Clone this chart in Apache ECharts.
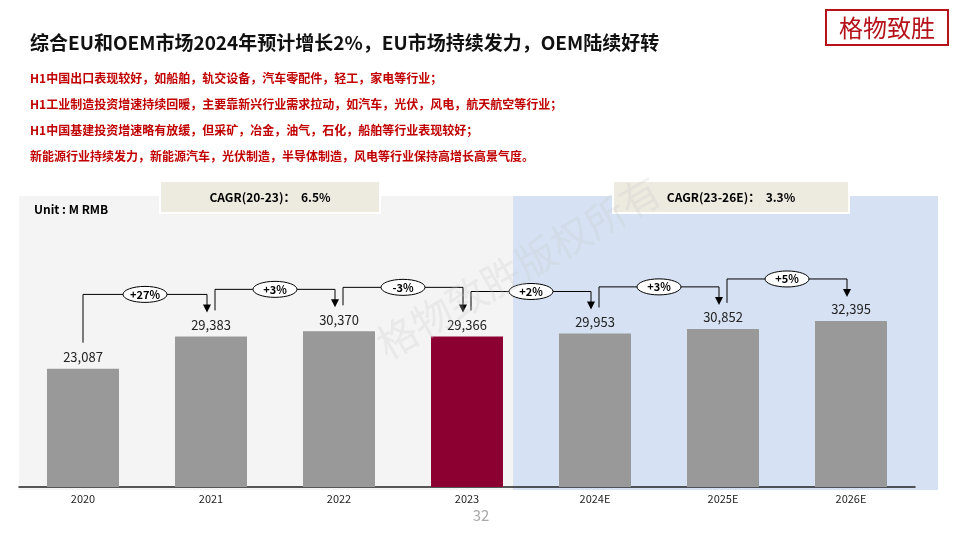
<!DOCTYPE html>
<html><head><meta charset="utf-8">
<script src="https://cdn.jsdelivr.net/npm/echarts@6/dist/echarts.min.js"></script>
<style>html,body{margin:0;padding:0;background:#fff}#main{width:960px;height:540px}</style>
</head><body><div id="main"></div>
<script>
var years = ['2020', '2021', '2022', '2023', '2024E', '2025E', '2026E'];
var values = [23087, 29383, 30370, 29366, 29953, 30852, 32395];
var growth = ['+27%', '+3%', '-3%', '+2%', '+3%', '+5%'];
var notes = [
  'H1中国出口表现较好，如船舶，轨交设备，汽车零配件，轻工，家电等行业；',
  'H1工业制造投资增速持续回暖，主要靠新兴行业需求拉动，如汽车，光伏，风电，航天航空等行业；',
  'H1中国基建投资增速略有放缓，但采矿，冶金，油气，石化，船舶等行业表现较好；',
  '新能源行业持续发力，新能源汽车，光伏制造，半导体制造，风电等行业保持高增长高景气度。'
];
var cagr = ['CAGR(20-23)：  6.5%', 'CAGR(23-26E)：  3.3%'];

var font = '"Noto Sans CJK SC", "Noto Sans", sans-serif';
var chart = echarts.init(document.getElementById('main'));

var baseGraphic = [
  {type: 'rect', shape: {x: 19, y: 196, width: 494, height: 294}, style: {fill: '#f4f4f4'}, z: -10},
  {type: 'rect', shape: {x: 513, y: 196, width: 425, height: 294}, style: {fill: '#d6e2f3'}, z: -10},
  {type: 'text', x: 34, y: 203, style: {text: 'Unit : M RMB', font: 'bold 12px ' + font, fill: '#000'}},
  {type: 'rect', shape: {x: 160, y: 181, width: 220, height: 32}, style: {fill: '#edeae0', stroke: '#fff', lineWidth: 2}},
  {type: 'text', x: 270, y: 197, style: {text: cagr[0], font: 'bold 12px ' + font, fill: '#000', align: 'center', verticalAlign: 'middle'}},
  {type: 'rect', shape: {x: 613, y: 181, width: 236, height: 32}, style: {fill: '#edeae0', stroke: '#fff', lineWidth: 2}},
  {type: 'text', x: 731, y: 197, style: {text: cagr[1], font: 'bold 12px ' + font, fill: '#000', align: 'center', verticalAlign: 'middle'}},
  {type: 'text', x: 30, y: 33, style: {text: '综合EU和OEM市场2024年预计增长2%，EU市场持续发力，OEM陆续好转', font: 'bold 19px ' + font, fill: '#111'}},
  {type: 'rect', shape: {x: 826, y: 10, width: 122, height: 35}, style: {fill: '#fff', stroke: '#b5121b', lineWidth: 2}},
  {type: 'text', x: 887, y: 28, style: {text: '格物致胜', font: '24px "Noto Sans CJK SC"', fill: '#b5121b', align: 'center', verticalAlign: 'middle'}},
  {type: 'text', x: 481, y: 515, style: {text: '32', font: '15px ' + font, fill: '#aaa', align: 'center', verticalAlign: 'middle'}},
  {type: 'text', x: 370, y: 330, rotation: Math.PI / 6, style: {text: '格物致胜版权所有', font: '40px "Noto Sans CJK SC"', fill: 'rgba(200,200,200,0.25)'}, z: 50}
];
notes.forEach(function (t, i) {
  baseGraphic.push({type: 'text', x: 30, y: 72 + i * 26, style: {text: t, font: 'bold 12px ' + font, fill: '#c00000'}});
});

chart.setOption({
  animation: false,
  grid: {left: 19, right: 45, top: 200, bottom: 53},
  xAxis: {
    type: 'category', data: years,
    axisLine: {lineStyle: {color: '#222', width: 1.5}},
    axisTick: {show: false},
    axisLabel: {color: '#222', fontSize: 11, fontFamily: font, margin: 6}
  },
  yAxis: {type: 'value', min: 0, max: 56000, show: false, splitLine: {show: false}},
  series: [{
    type: 'bar', barWidth: 72,
    data: values.map(function (v, i) {
      return {value: v, itemStyle: {color: i === 3 ? '#8b0030' : '#999999'}};
    }),
    label: {
      show: true, position: 'top', distance: 5, color: '#222', fontSize: 13, fontFamily: font,
      formatter: function (p) { return p.value.toLocaleString('en-US'); }
    }
  }],
  graphic: baseGraphic
});

// connectors between bars
var g = baseGraphic.slice();
for (var i = 0; i < values.length - 1; i++) {
  var p0 = chart.convertToPixel({xAxisIndex: 0, yAxisIndex: 0}, [i, values[i]]);
  var p1 = chart.convertToPixel({xAxisIndex: 0, yAxisIndex: 0}, [i + 1, values[i + 1]]);
  var sx = p0[0] + (i === 0 ? 0 : 4), sy = p0[1] - 26;
  var ex = p1[0] - 4, ey = p1[1] - 24;
  var ly = Math.min(sy, ey) - 18;
  g.push({type: 'polyline', shape: {points: [[sx, sy], [sx, ly], [ex, ly], [ex, ey - 7]]}, style: {stroke: '#000', lineWidth: 1, fill: null}});
  g.push({type: 'polygon', shape: {points: [[ex - 4, ey - 8], [ex + 4, ey - 8], [ex, ey]]}, style: {fill: '#000'}});
  var mx = (sx + ex) / 2;
  g.push({type: 'ellipse', shape: {cx: mx, cy: ly, rx: 22, ry: 8}, style: {fill: '#fff', stroke: '#000', lineWidth: 1}});
  g.push({type: 'text', x: mx, y: ly, style: {text: growth[i], font: 'bold 11px ' + font, fill: '#000', align: 'center', verticalAlign: 'middle'}});
}
chart.setOption({graphic: g}, {replaceMerge: ['graphic']});
</script>
</body></html>
